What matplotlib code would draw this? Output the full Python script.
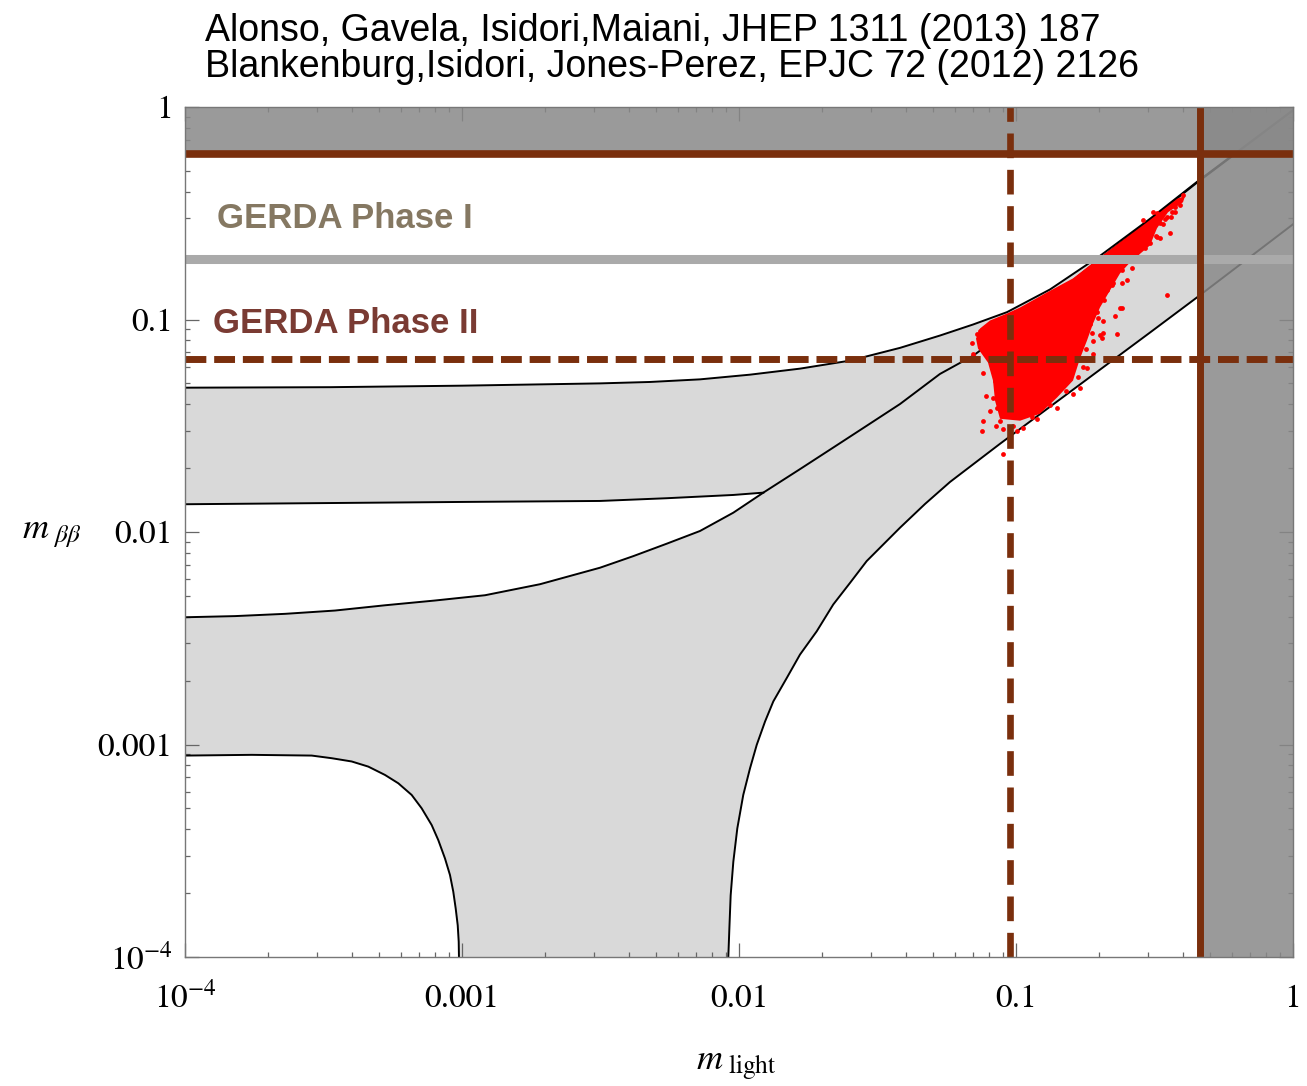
import numpy as np
import matplotlib
matplotlib.use('Agg')
import matplotlib.pyplot as plt
from matplotlib.ticker import LogLocator, NullFormatter

plt.rcParams['mathtext.fontset'] = 'stix'

# inverted hierarchy band, upper edge (m_light, m_bb)
IH_UP_X = [1e-4, 3.338e-4, 1e-3, 3.148e-3, 4.772e-3, 7.23e-3, 0.01096, 0.0166, 0.02516, 0.03814,
           0.05315, 0.06995, 0.09279, 0.1327, 0.2010, 0.3047, 0.4500, 1.0]
IH_UP_Y = [0.04777, 0.04803, 0.04882, 0.05005, 0.05082, 0.05228, 0.05501, 0.05872, 0.06405, 0.07355,
           0.08405, 0.09471, 0.1083, 0.1385, 0.1993, 0.2978, 0.4443, 0.9679]
# inverted hierarchy band, lower edge (until it meets the normal band)
IH_LO_X = [1e-4, 1e-3, 3.148e-3, 5.483e-3, 9.54e-3, 0.01224]
IH_LO_Y = [0.01351, 0.01385, 0.0140, 0.01442, 0.01494, 0.01532]
MEET_X = 0.01224
# normal hierarchy band, upper edge
NH_UP_X = [1e-4, 1.515e-4, 2.296e-4, 3.48e-4, 5.27e-4, 7.99e-4, 1.211e-3, 1.913e-3, 3.148e-3, 4.154e-3,
           5.483e-3, 7.23e-3, 9.54e-3, 0.01224, 0.0166, 0.02189, 0.02891, 0.03814, 0.05315, 0.07012,
           0.0951, 0.1327, 0.2010, 0.3047, 0.4500, 1.0]
NH_UP_Y = [3.97e-3, 4.02e-3, 4.12e-3, 4.27e-3, 4.52e-3, 4.76e-3, 5.04e-3, 5.68e-3, 6.79e-3, 7.70e-3,
           8.81e-3, 0.01011, 0.01233, 0.01532, 0.01976, 0.02497, 0.03162, 0.04003, 0.05544, 0.06764,
           0.0907, 0.1256, 0.1929, 0.2946, 0.4405, 0.9632]
# normal hierarchy band, lower edge, left branch
NH_LO_L_X = [1e-4, 1.741e-4, 2.867e-4, 3.385e-4, 3.998e-4, 4.589e-4, 5.272e-4, 5.888e-4, 6.58e-4, 7.15e-4,
             7.77e-4, 8.21e-4, 8.68e-4, 9.05e-4, 9.30e-4, 9.49e-4, 9.65e-4, 9.73e-4, 9.75e-4]
NH_LO_L_Y = [8.87e-4, 8.94e-4, 8.87e-4, 8.62e-4, 8.32e-4, 7.87e-4, 7.19e-4, 6.57e-4, 5.79e-4, 5.01e-4,
             4.18e-4, 3.55e-4, 2.91e-4, 2.43e-4, 2.03e-4, 1.69e-4, 1.41e-4, 1.18e-4, 1e-4]
# normal hierarchy band, lower edge, right branch
NH_LO_R_X = [9.15e-3, 9.23e-3, 9.33e-3, 9.54e-3, 9.86e-3, 0.01036, 0.01096, 0.01159, 0.01242, 0.01330,
             0.01487, 0.0166, 0.01908, 0.02189, 0.02516, 0.02891, 0.03814, 0.04694, 0.05778, 0.08755,
             0.1327, 0.2010, 0.3047, 0.4500, 1.0]
NH_LO_R_Y = [1e-4, 1.36e-4, 1.95e-4, 2.81e-4, 4.03e-4, 5.79e-4, 7.73e-4, 9.97e-4, 1.284e-3, 1.595e-3,
             2.055e-3, 2.649e-3, 3.41e-3, 4.56e-3, 5.76e-3, 7.30e-3, 0.01048, 0.01355, 0.01720, 0.02601,
             0.03887, 0.05808, 0.08685, 0.1270, 0.2806]

# dense core of the scan points
CLOUD_X = [0.08755, 0.08399, 0.08260, 0.07922, 0.07291, 0.07171, 0.07413, 0.08054, 0.09279, 0.1034,
           0.1294, 0.1606, 0.2010, 0.2374, 0.2971, 0.3450, 0.3844, 0.4074, 0.4008, 0.3538, 0.3228,
           0.3047, 0.2580, 0.2374, 0.2184, 0.2010, 0.1897, 0.1804, 0.1702, 0.1606, 0.1406, 0.1220, 0.1034]
CLOUD_Y = [0.0341, 0.0415, 0.0516, 0.0627, 0.0730, 0.0813, 0.0907, 0.0989, 0.1067, 0.1139,
           0.1341, 0.1561, 0.1961, 0.2307, 0.2868, 0.3339, 0.3722, 0.3803, 0.3563, 0.3197, 0.2687,
           0.2234, 0.1857, 0.1648, 0.1370, 0.1139, 0.0957, 0.0796, 0.0655, 0.0516, 0.0429, 0.0360, 0.0334]
# scattered scan points around the core
DOTS_X = [0.4008, 0.3750, 0.3508, 0.3311, 0.3597, 0.3228, 0.3311, 0.3047, 0.3508, 0.2623, 0.2516, 0.2413,
          0.2239, 0.2374, 0.2061, 0.2044, 0.2315, 0.1897, 0.1961, 0.2130, 0.2010, 0.1849, 0.1804, 0.1702,
          0.1606, 0.1528, 0.1406, 0.1327, 0.1190, 0.1123, 0.1008, 0.1060, 0.0898, 0.0951, 0.0760, 0.0754,
          0.0826, 0.0854, 0.0876, 0.0928, 0.0840, 0.0819, 0.0700, 0.0694, 0.0723, 0.0741, 0.1606, 0.1702,
          0.1897, 0.2804, 0.2971, 0.2874, 0.3124, 0.3228, 0.2516, 0.2734, 0.2580, 0.2315, 0.2184, 0.1220,
          0.1294, 0.1096, 0.1034, 0.2413, 0.2270, 0.2061, 0.2010, 0.3750, 0.3620, 0.3450,
          0.1977, 0.1881, 0.1789, 0.1746, 0.1674, 0.1515, 0.1327, 0.1143, 0.0975, 0.0898, 0.0847, 0.0805,
          0.0779, 0.0760, 0.0705, 0.0694, 0.2078, 0.2222, 0.2413, 0.2690, 0.2921, 0.3201, 0.3394, 0.3659,
          0.3909]
DOTS_Y = [0.3845, 0.3375, 0.3029, 0.2837, 0.2545, 0.2436, 0.2410, 0.2283, 0.1298, 0.1740, 0.1527, 0.1478,
          0.1478, 0.1127, 0.0989, 0.0822, 0.0859, 0.0796, 0.1079, 0.1370, 0.1229, 0.0957, 0.0594, 0.0478,
          0.0448, 0.0516, 0.0385, 0.0429, 0.0341, 0.0372, 0.0300, 0.0310, 0.0233, 0.0278, 0.0334, 0.0300,
          0.0429, 0.0385, 0.0334, 0.0360, 0.0516, 0.0594, 0.0691, 0.0662, 0.0859, 0.0887, 0.0594, 0.0738,
          0.0691, 0.2630, 0.2716, 0.2931, 0.3197, 0.3162, 0.2186, 0.2070, 0.1898, 0.1759, 0.1648, 0.0415,
          0.0516, 0.0415, 0.0372, 0.1127, 0.1040, 0.0860, 0.0850, 0.3200, 0.3050, 0.2980,
          0.1011, 0.0868, 0.0730, 0.0600, 0.0538, 0.0462, 0.0397, 0.0349, 0.0316, 0.0306, 0.0316, 0.0372,
          0.0438, 0.0562, 0.0669, 0.0779, 0.1229, 0.1447, 0.1703, 0.1940, 0.2163, 0.2463, 0.2806, 0.3197,
          0.3449]

# experimental limits
GERDA1 = 0.193
GERDA2 = 0.0651
TOP_LIMIT = 0.60
MLIGHT_DASH = 0.0951
MLIGHT_SOLID = 0.461

XTICKS = [1e-4, 1e-3, 1e-2, 1e-1, 1]
XTICK_LABELS = [r'$10^{-4}$', '0.001', '0.01', '0.1', '1']
YTICKS = [1e-4, 1e-3, 1e-2, 1e-1, 1]
YTICK_LABELS = [r'$10^{-4}$', '0.001', '0.01', '0.1', '1']

brown = '#7a2f0d'
band = '#d9d9d9'

fig = plt.figure(figsize=(13.07, 10.86), dpi=100)
ax = fig.add_axes([0.14155, 0.11878, 0.84774, 0.78269])
ax.set_xscale('log')
ax.set_yscale('log')
ax.set_xlim(1e-4, 1)
ax.set_ylim(1e-4, 1)

# bands
nh_up_right = [(x, y) for x, y in zip(NH_UP_X, NH_UP_Y) if x >= MEET_X]
ih_px = IH_UP_X + [p[0] for p in nh_up_right][::-1] + IH_LO_X[::-1]
ih_py = IH_UP_Y + [p[1] for p in nh_up_right][::-1] + IH_LO_Y[::-1]
ax.fill(ih_px, ih_py, color=band, lw=0, zorder=1)
nh_px = NH_UP_X + NH_LO_R_X[::-1] + NH_LO_L_X[::-1]
nh_py = NH_UP_Y + NH_LO_R_Y[::-1] + NH_LO_L_Y[::-1]
ax.fill(nh_px, nh_py, color=band, lw=0, zorder=1)

for xs, ys in [(IH_UP_X, IH_UP_Y), (IH_LO_X, IH_LO_Y), (NH_UP_X, NH_UP_Y),
               (NH_LO_L_X, NH_LO_L_Y), (NH_LO_R_X, NH_LO_R_Y)]:
    ax.plot(xs, ys, color='black', lw=1.4, zorder=2, solid_joinstyle='round')

# scan points
ax.fill(CLOUD_X, CLOUD_Y, color='#ff0000', lw=0, zorder=3)
ax.scatter(DOTS_X, DOTS_Y, s=12, color='#ff0000', lw=0, zorder=3)

# excluded regions
ax.axhspan(TOP_LIMIT, 1, color='#898989', alpha=0.85, lw=0, zorder=4)
ax.axvspan(MLIGHT_SOLID, 1, color='#898989', alpha=0.85, lw=0, zorder=4)

ax.axhline(GERDA1, color='#aaaaaa', lw=6.5, zorder=5)
ax.axhline(TOP_LIMIT, color=brown, lw=5.5, zorder=6)
ax.axhline(GERDA2, color=brown, lw=5, dashes=(3.0, 1.13), zorder=6)
ax.axvline(MLIGHT_SOLID, color=brown, lw=5, zorder=6)
ax.axvline(MLIGHT_DASH, color=brown, lw=4.8, dashes=(3.7, 1.75), zorder=6)

ax.text(1.30e-4, 0.300, 'GERDA Phase I', color='#857862', fontsize=25, fontweight='bold',
        family='Liberation Sans', ha='left', va='center', zorder=7)
ax.text(1.26e-4, 0.0960, 'GERDA Phase II', color='#7a3b33', fontsize=25, fontweight='bold',
        family='Liberation Sans', ha='left', va='center', zorder=7)

# ticks
ax.set_xticks(XTICKS)
ax.set_xticklabels(XTICK_LABELS)
ax.set_yticks(YTICKS)
ax.set_yticklabels(YTICK_LABELS)
for a in (ax.xaxis, ax.yaxis):
    a.set_minor_locator(LogLocator(base=10, subs=np.arange(2, 10), numticks=20))
    a.set_minor_formatter(NullFormatter())
ax.tick_params(which='both', direction='in', top=True, right=True, color='#666666',
               labelsize=24, labelfontfamily='STIXGeneral')
ax.tick_params(which='major', length=10, width=0.9)
ax.tick_params(which='minor', length=3.5, width=0.9)
ax.tick_params(axis='x', pad=36)
ax.tick_params(axis='y', pad=9)
for lab in ax.get_xticklabels():
    lab.set_va('baseline')
for sp in ax.spines.values():
    sp.set_color('#777777')
    sp.set_linewidth(1.0)
    sp.set_zorder(8)

fig.text(52 / 1307, 1 - 533 / 1086, r'$m_{\ \beta\beta}$', fontsize=26, ha='center', va='center')
fig.text(736 / 1307, 1 - 1066 / 1086, r'$m_{\ \mathrm{light}}$', fontsize=26, ha='center', va='center')

fig.text(205 / 1307, 1 - 41 / 1086, 'Alonso, Gavela, Isidori,Maiani, JHEP 1311 (2013) 187',
         fontsize=27, family='Liberation Sans', va='baseline', ha='left')
fig.text(205 / 1307, 1 - 77 / 1086, 'Blankenburg,Isidori, Jones-Perez, EPJC 72 (2012) 2126',
         fontsize=27, family='Liberation Sans', va='baseline', ha='left')

fig.savefig('out.png', dpi=100)
